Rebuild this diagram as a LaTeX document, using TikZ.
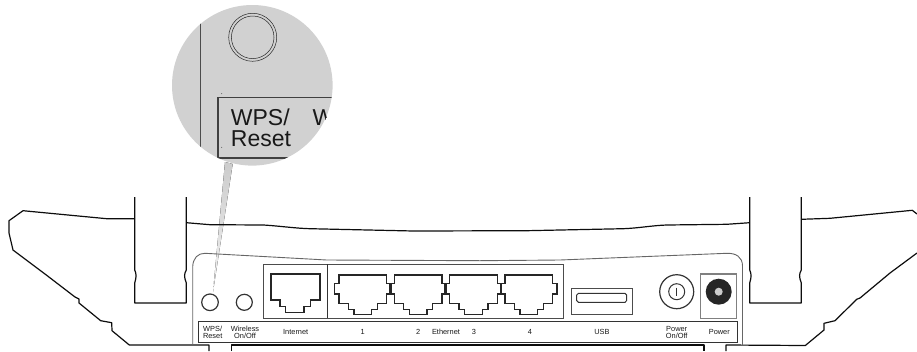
\documentclass[tikz,border=0pt]{standalone}
\usepackage{fontspec}
\setmainfont{Liberation Sans}
\tikzset{
 body/.style={line width=1.2pt,black!95,line join=round},
 panel/.style={line width=.9pt,black!60},
 box/.style={line width=1pt,black!70},
 bar/.style={line width=1.4pt,black!80},
 port/.style={line width=1.1pt,black!85,line join=miter},
 ring/.style={line width=1.2pt,black!80},
 lab/.style={font=\fontsize{7.4}{6.8}\selectfont,black!90,align=center,inner sep=0pt},
 big/.style={font=\fontsize{23}{21.7}\selectfont,black!90,anchor=base west,inner sep=0pt},
 enet/.pic={\draw[port] (0,0) -- (47.7,0) -- (47.7,8.3) -- (52,8.3) -- (52,19) -- (47.7,19) -- (47.7,28.3) -- (38.3,28.3) -- (38.3,34.3) -- (32.7,34.3) -- (32.7,39.3) -- (15,39.3) -- (15,34.3) -- (9.3,34.3) -- (9.3,28.3) -- (0,28.3) -- (0,19) -- (-4.7,19) -- (-4.7,8.3) -- (0,8.3) -- cycle;}
}
\begin{document}
\begin{tikzpicture}[x=1pt,y=-1pt]
\useasboundingbox (0,0) rectangle (917,351);
% magnifier
\fill[black!18] (252.3,85.3) circle (80.3);
\fill[top color=black!20,bottom color=black!5] (225,162) -- (232.7,164) -- (213,292) -- cycle;
\begin{scope}
\clip (252.3,85.3) circle (80.3);
\draw[line width=.9pt,black!70] (200.7,10) -- (200.7,147);
\draw[line width=.5pt,black!85] (252.7,37.3) circle (24);
\draw[line width=.5pt,black!85] (252.7,37.3) circle (21.3);
\draw[line width=1.8pt,black!75] (340,97.5) -- (217.7,97.5) -- (217.7,157.7) -- (340,157.7);
\fill[black!70] (221.7,93.7) circle (.5) (221.7,147.3) circle (.5);
\node[big] (zwps) at (230.7,125) {WPS/};
\node[big] (zreset) at (230.7,146.7) {Reset};
\node[big] (zw) at (312.3,125) {W};
\end{scope}
% body
\draw[body] (134.7,218.7) -- (106.7,218.7) -- (23,210.7) -- (9,220.7) -- (9,233) -- (13,250) -- (45,274) -- (75,297) -- (79,299) -- (79,303) -- (100.7,320.7) -- (111.7,322.7) -- (112,330.7) -- (129.3,345) -- (209,345) -- (209,351);
\draw[body] (231.7,351) -- (231.7,345) -- (704,345) -- (704,351);
\draw[body] (726,351) -- (726,345) -- (805.3,345.5) -- (824,330) -- (824,323.3) -- (835,320.7) -- (856.7,299.3) -- (860,298) -- (890,273) -- (917,253);
\draw[body] (801.3,219.3) -- (830,218.3) -- (912.3,210.3) -- (917,214);
\draw[body] (186.3,222.7) -- (210,224.7) -- (263.3,225) .. controls (280,226) and (295,228.3) .. (310,228.7) -- (413.3,231) -- (526.7,230.7) -- (623.3,228.7) .. controls (640,228) and (652,225.5) .. (666.7,225) -- (726.7,224.3) -- (749.7,222.7);
% antennas
\draw[body] (134.7,197) -- (134.7,270) .. controls (136.5,274) and (136.5,277) .. (134.7,283) -- (134.7,303) -- (186.3,303) -- (186.3,283) .. controls (184,277) and (184,274) .. (186.3,270) -- (186.3,197);
\draw[body] (749.7,197) -- (749.7,270) .. controls (751.5,274) and (751.5,277) .. (749.7,283) -- (749.7,303) -- (801.3,303) -- (801.3,283) .. controls (799,277) and (799,274) .. (801.3,270) -- (801.3,197);
% panel
\draw[panel] (192.7,345) -- (192.7,266.7) .. controls (193,258) and (198,253.2) .. (205,253.3) -- (326.7,260) -- (480,260.7) -- (560,260) -- (726.7,253.3) .. controls (736,253) and (742.5,257) .. (742.5,266) -- (742.5,345);
\draw[box] (263.3,264) rectangle (563.7,318.3);
\draw[line width=1pt,black!80] (327.3,264) -- (327.3,318.3);
\draw[line width=1.1pt,black!50] (700.7,274) rectangle (736.7,318.3);
\draw[bar] (198.3,321.7) rectangle (737.3,342.3);
% buttons
\draw[ring] (210,302.3) circle (8.3);
\draw[ring] (244.3,302.3) circle (8);
% internet port
\draw[port] (271,274) -- (320,274) -- (320,300) -- (310.7,300) -- (310.7,306.7) -- (304,306.7) -- (304,312.3) -- (285.7,312.3) -- (285.7,306.7) -- (280,306.7) -- (280,300) -- (271,300) -- cycle;
% ethernet ports
\pic at (339,275) {enet};
\pic at (394.33,275) {enet};
\pic at (449.67,275) {enet};
\pic at (505,275) {enet};
% usb
\draw[box] (571.7,288.3) rectangle (632.7,314);
\draw[line width=1pt,black!80] (578.5,293.3) -- (625,293.3) -- (626.7,295) -- (626.7,300.5) -- (625,302.3) -- (578.5,302.3) -- (576.7,300.5) -- (576.7,295) -- cycle;
% power switch
\draw[ring] (676.7,291.7) circle (17);
\draw[line width=1pt,black!80] (676.7,291.7) circle (8);
\draw[line width=1pt,black!80] (676.7,287.5) -- (676.7,295.5);
% power jack
\fill[black!85] (718.7,291.7) circle (13);
\fill[black!20] (718.7,291.7) circle (4);
% labels
\node[lab] (lwps) at (212.7,332.7) {WPS/\\Reset};
\node[lab] (lwl) at (245,332.7) {Wireless\\On/Off};
\node[lab] (lint) at (295.7,331.5) {Internet};
\node[lab] (l1) at (362.7,331.5) {1};
\node[lab] (l2) at (418.3,331.5) {2};
\node[lab] (leth) at (446,331.5) {Ethernet};
\node[lab] (l3) at (474,331.5) {3};
\node[lab] (l4) at (530,331.5) {4};
\node[lab] (lusb) at (602,331.5) {USB};
\node[lab] (lpo) at (676.7,332.7) {Power\\On/Off};
\node[lab] (lp) at (719.3,331.5) {Power};
\end{tikzpicture}
\end{document}
